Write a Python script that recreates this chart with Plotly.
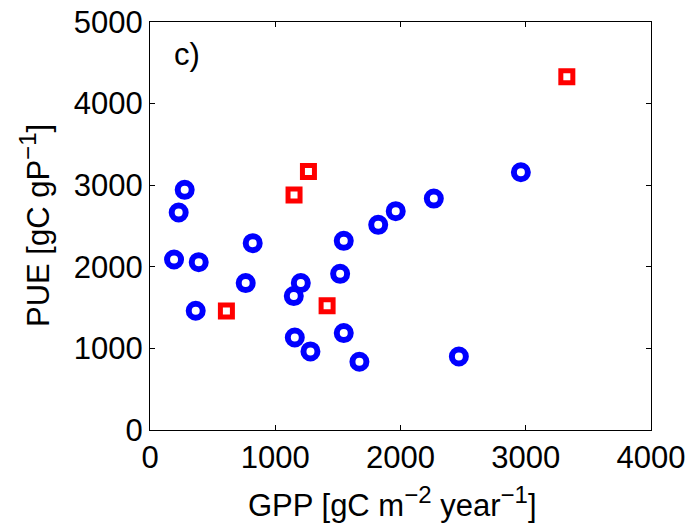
import plotly.graph_objects as go

# GPP vs PUE per site
circle_gpp = [277, 229, 192, 389, 365, 820, 764, 1148, 1204, 1156, 1281,
              1547, 1518, 1547, 1672, 1822, 1962, 2266, 2466, 2961]
circle_pue = [2943, 2665, 2089, 2057, 1461, 2290, 1800, 1641, 1800, 1134, 963,
              2318, 1914, 1188, 836, 2514, 2682, 2836, 901, 3159]

square_gpp = [610, 1150, 1265, 1414, 3328]
square_pue = [1457, 2881, 3167, 1522, 4330]

x_ticks = [0, 1000, 2000, 3000, 4000]
y_ticks = [0, 1000, 2000, 3000, 4000, 5000]

FONT = "Liberation Sans, Arial, Helvetica, sans-serif"
FS = 31


def sup(s):
    return f"<sup><span style='font-size:24px'>{s}</span></sup>"


x_title = f"GPP [gC m{sup('−2')} year{sup('−1')}]"
y_title = f"PUE [gC gP{sup('−1')}]"

fig = go.Figure()
fig.add_trace(go.Scatter(
    x=circle_gpp, y=circle_pue, mode="markers",
    marker=dict(symbol="circle-open", size=14, color="#0000ff",
                line=dict(width=6, color="#0000ff")),
    showlegend=False, cliponaxis=False,
))
fig.add_trace(go.Scatter(
    x=square_gpp, y=square_pue, mode="markers",
    marker=dict(symbol="square-open", size=12, color="#ff0000",
                line=dict(width=5, color="#ff0000")),
    showlegend=False, cliponaxis=False,
))

axis_common = dict(
    showgrid=False, zeroline=False, showline=True, linecolor="black",
    linewidth=1, mirror="ticks", ticks="inside", ticklen=5,
    tickcolor="black", tickfont=dict(size=FS, color="black", family=FONT),
    automargin=False,
)

title_font = dict(size=FS, color="black", family=FONT)

fig.update_layout(
    width=699, height=529,
    margin=dict(l=150, r=48, t=22, b=99),
    paper_bgcolor="white", plot_bgcolor="white",
    font=dict(family=FONT, color="black", size=FS),
    xaxis=dict(range=[0, 4000], tickvals=x_ticks, **axis_common),
    yaxis=dict(range=[0, 5000], tickvals=y_ticks, **axis_common),
    annotations=[
        dict(text="c)", x=0.043, y=0.921, xref="paper", yref="paper",
             xanchor="left", yanchor="middle", showarrow=False,
             font=title_font),
        dict(text=x_title, x=0.5, y=0, xref="paper", yref="paper",
             xanchor="center", yanchor="middle", yshift=-72, xshift=-8,
             showarrow=False, font=title_font),
        dict(text=y_title, x=0, y=0.5, xref="paper", yref="paper",
             xanchor="center", yanchor="middle", xshift=-115, textangle=-90,
             showarrow=False, font=title_font),
    ],
)

fig.write_html("out.html")
